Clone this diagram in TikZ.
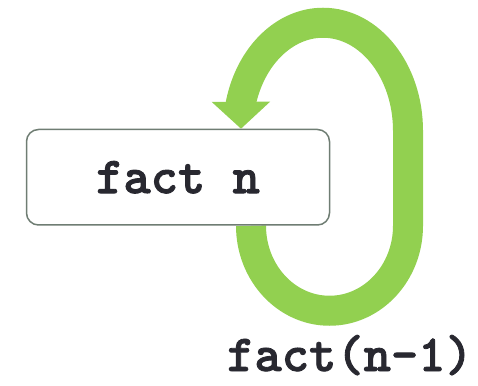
\documentclass[tikz,border=0pt]{standalone}
\usepackage{fontspec}
\newfontfamily\codefont{lmmonolt10-bold.otf}[FakeBold=1.6]
\usetikzlibrary{arrows.meta}
\pgfdeclarelayer{background}
\pgfsetlayers{background,main}
\definecolor{loopgreen}{HTML}{92D050}
\definecolor{boxedge}{HTML}{6F7D73}
\definecolor{codeink}{HTML}{282830}
\begin{document}
\begin{tikzpicture}[x=1pt,y=1pt,
  code/.style={font=\fontsize{52}{52}\selectfont\codefont, text=codeink},
  callbox/.style={draw=boxedge, line width=1.5pt, rounded corners=12pt, fill=white,
                  minimum width=303pt, minimum height=95.5pt, inner sep=0pt},
  recursion/.style={draw=loopgreen, line width=30pt,
                    -{Triangle[length=27pt,width=57pt]}}]
\useasboundingbox (0,0) rectangle (478,385);

% the function call box
\node[callbox, code] (fn) at (178,207.75) {fact n};

% recursive call label
\node[code, anchor=base] (rec) at (350,14) {fact(n-1)};

% the loop going out of the box and back into it
\begin{pgfonlayer}{background}
\draw[recursion] ([xshift=73pt]fn.south)
  arc[start angle=180, end angle=360, x radius=78.5pt, y radius=85pt]
  -- ++(0,95)
  arc[start angle=0, end angle=165, x radius=85pt, y radius=108pt]
  -- ([xshift=63pt]fn.north);
\end{pgfonlayer}
\end{tikzpicture}
\end{document}
